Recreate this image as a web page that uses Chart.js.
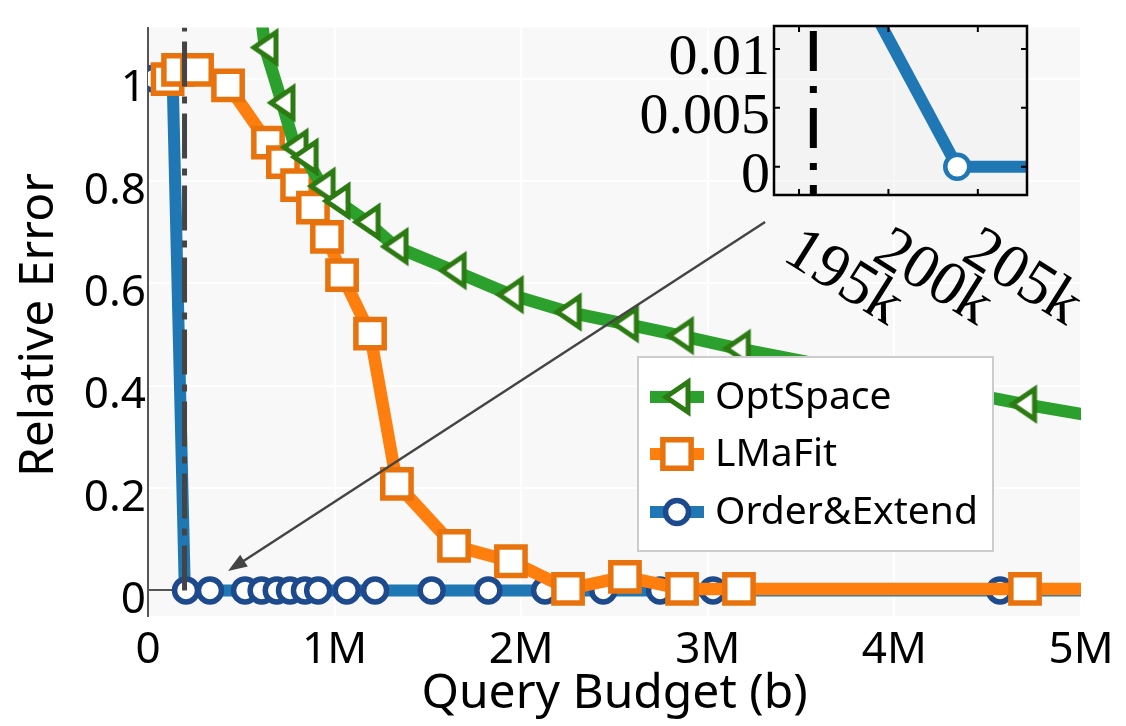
<!DOCTYPE html>
<html><head><meta charset="utf-8">
<script src="https://cdn.jsdelivr.net/npm/chart.js@4/dist/chart.umd.min.js"></script>
<style>
html,body{margin:0;padding:0;background:#fff;}
#wrap{position:relative;width:1126px;height:726px;overflow:hidden;}
#main{position:absolute;left:0;top:0;}
#inset{position:absolute;left:600px;top:0;}
</style></head><body>
<div id="wrap"><canvas id="main" width="1126" height="726"></canvas><canvas id="inset" width="526" height="330"></canvas></div>
<script>
// ---------------- data ----------------
const xTicks = [0, 1e6, 2e6, 3e6, 4e6, 5e6];
const xTickLabels = ['0', '1M', '2M', '3M', '4M', '5M'];
const yTicks = [0, 0.2, 0.4, 0.6, 0.8, 1];
const yTickLabels = ['0', '0.2', '0.4', '0.6', '0.8', '1'];

const seriesNames = ['OptSpace', 'LMaFit', 'Order&Extend'];

const optX = [580000, 627000, 718000, 788000, 842000, 933000, 1013000, 1174000, 1324000, 1635000, 1941000, 2252000, 2558000, 2853000, 3158000, 4692000, 5300000];
const optY = [1.20, 1.061, 0.953, 0.866, 0.847, 0.790, 0.761, 0.720, 0.672, 0.625, 0.578, 0.544, 0.521, 0.498, 0.473, 0.364, 0.326];

const lmaX = [105000, 161000, 263000, 429000, 643000, 723000, 799000, 884000, 959000, 1040000, 1190000, 1334000, 1640000, 1945000, 2251000, 2556000, 2862000, 3167000, 4700000, 5300000];
const lmaY = [0.999, 1.017, 1.017, 0.987, 0.875, 0.837, 0.792, 0.748, 0.691, 0.616, 0.502, 0.208, 0.087, 0.057, 0.003, 0.0265, 0.003, 0.003, 0.003, 0.003];

const oeX = [30000, 132000, 196000, 203850, 332000, 520000, 609000, 690000, 761000, 841000, 912000, 1065000, 1217000, 1520000, 1824000, 2128000, 2440000, 2744000, 3028000, 4566000, 5300000];
const oeY = [1, 1, 0.0222, 0, 0, 0, 0, 0, 0, 0, 0, 0, 0, 0, 0, 0, 0, 0, 0, 0, 0];
const oeUnmarked = [2];   // index of the unmarked intermediate sample

const thresholdX = 195800;

// arrow annotation (data coords): from inset corner to the zoomed point
const arrowFrom = {x: 3307000, y: 0.72};
const arrowTo = {x: 429000, y: 0.038};

// inset
const insetXRange = [193600, 207750];
const insetYRange = [-0.0024, 0.01195];
const insetXTicks = [195000, 200000, 205000];
const insetXTickLabels = ['195k', '200k', '205k'];
const insetYTicks = [0, 0.005, 0.01];
const insetYTickLabels = ['0', '0.005', '0.01'];

// ---------------- styles ----------------
const SANS = '"Noto Sans", "Open Sans", sans-serif';
const SERIF = '"Liberation Serif", "DejaVu Serif", serif';
const zip = (xs, ys) => xs.map((x, i) => ({x: x, y: ys[i]}));

function makeTriangle(w, h, lw, stroke, fill) {
  const c = document.createElement('canvas');
  c.width = Math.ceil(w + lw * 4); c.height = Math.ceil(h + lw * 4);
  if (c.width % 2) c.width++; if (c.height % 2) c.height++;
  const g = c.getContext('2d');
  const cx = c.width / 2, cy = c.height / 2;
  g.beginPath(); g.moveTo(cx - w / 2, cy); g.lineTo(cx + w / 2, cy - h / 2); g.lineTo(cx + w / 2, cy + h / 2); g.closePath();
  g.fillStyle = fill; g.fill(); g.lineWidth = lw; g.strokeStyle = stroke; g.lineJoin = 'miter'; g.stroke();
  return c;
}
const triMarker = makeTriangle(22, 30, 5, '#2b7a12', '#ffffff');

const datasets = [
  {label: seriesNames[0], data: zip(optX, optY), borderColor: '#2ca02c', borderWidth: 12.5,
   pointStyle: triMarker, pointRadius: 15, clip: 0},
  {label: seriesNames[1], data: zip(lmaX, lmaY), borderColor: '#ff7f0e', borderWidth: 12.5,
   pointStyle: 'rect', pointRadius: 20, pointBorderWidth: 5.5, pointBorderColor: '#e8730c', pointBackgroundColor: '#ffffff', clip: 0},
  {label: seriesNames[2], data: zip(oeX, oeY), borderColor: '#1f77b4', borderWidth: 12,
   pointStyle: 'circle', pointRadius: c => oeUnmarked.includes(c.dataIndex) ? 0 : 11.5,
   pointBorderWidth: 5.5, pointBorderColor: '#1d4a8c', pointBackgroundColor: '#ffffff', clip: 0}
];
datasets.forEach(d => { d.borderJoinStyle = 'round'; d.borderCapStyle = 'butt'; d.tension = 0; d.fill = false; });

function drawMarker(ctx, ds, x, y) {
  ctx.save();
  if (ds.pointStyle instanceof HTMLCanvasElement) {
    ctx.drawImage(ds.pointStyle, x - ds.pointStyle.width / 2, y - ds.pointStyle.height / 2);
  } else {
    ctx.lineWidth = ds.pointBorderWidth; ctx.strokeStyle = ds.pointBorderColor; ctx.fillStyle = ds.pointBackgroundColor;
    ctx.beginPath();
    if (ds.pointStyle === 'rect') { const s = ds.pointRadius * Math.SQRT1_2; ctx.rect(x - s, y - s, 2 * s, 2 * s); }
    else { ctx.arc(x, y, 11.5, 0, Math.PI * 2); }
    ctx.fill(); ctx.stroke();
  }
  ctx.restore();
}

const mainPlugin = {
  id: 'mainDecor',
  beforeDraw(chart) {
    const {ctx, chartArea: a} = chart;
    ctx.save(); ctx.fillStyle = '#f8f8f8'; ctx.fillRect(a.left, a.top, a.right - a.left, a.bottom - a.top); ctx.restore();
  },
  afterDraw(chart) {
    const {ctx, chartArea: a, scales: {x: xs, y: ys}} = chart;
    // tick labels
    ctx.save();
    ctx.fillStyle = '#000';
    ctx.font = '44px ' + SANS;
    ctx.textAlign = 'right'; ctx.textBaseline = 'alphabetic';
    yTicks.forEach((v, i) => ctx.fillText(yTickLabels[i], a.left - 2, ys.getPixelForValue(v) + 22.5));
    ctx.textAlign = 'center';
    xTicks.forEach((v, i) => ctx.fillText(xTickLabels[i], xs.getPixelForValue(v), 663));
    // axis titles
    ctx.font = '48px ' + SANS;
    ctx.fillText('Query Budget (b)', (a.left + a.right) / 2, 708);
    ctx.save();
    ctx.translate(53, 325); ctx.rotate(-Math.PI / 2);
    ctx.fillText('Relative Error', 0, 0);
    ctx.restore();
    ctx.restore();

    // threshold dash-dot line
    ctx.save();
    ctx.beginPath(); ctx.rect(a.left, a.top, a.right - a.left, a.bottom - a.top); ctx.clip();
    const tx = xs.getPixelForValue(thresholdX);
    ctx.strokeStyle = '#444'; ctx.lineWidth = 5; ctx.setLineDash([45, 10, 7, 10]);
    ctx.beginPath(); ctx.moveTo(tx, ys.getPixelForValue(0)); ctx.lineTo(tx, a.top); ctx.stroke();
    ctx.setLineDash([]);
    // arrow
    const x0 = xs.getPixelForValue(arrowFrom.x), y0 = ys.getPixelForValue(arrowFrom.y);
    const x1 = xs.getPixelForValue(arrowTo.x), y1 = ys.getPixelForValue(arrowTo.y);
    const ang = Math.atan2(y1 - y0, x1 - x0);
    const hl = 19, hw = 7;
    ctx.strokeStyle = '#444'; ctx.fillStyle = '#444'; ctx.lineWidth = 2.5;
    ctx.beginPath(); ctx.moveTo(x0, y0); ctx.lineTo(x1 - Math.cos(ang) * hl * 0.8, y1 - Math.sin(ang) * hl * 0.8); ctx.stroke();
    ctx.beginPath();
    ctx.moveTo(x1, y1);
    ctx.lineTo(x1 - Math.cos(ang) * hl - Math.sin(ang) * hw, y1 - Math.sin(ang) * hl + Math.cos(ang) * hw);
    ctx.lineTo(x1 - Math.cos(ang) * hl + Math.sin(ang) * hw, y1 - Math.sin(ang) * hl - Math.cos(ang) * hw);
    ctx.closePath(); ctx.fill();
    ctx.restore();

    // legend
    ctx.save();
    const L = 638, T = 357, R = 993, B = 551;
    ctx.fillStyle = '#ffffff'; ctx.fillRect(L, T, R - L, B - T);
    ctx.strokeStyle = '#cccccc'; ctx.lineWidth = 2; ctx.strokeRect(L, T, R - L, B - T);
    const rows = [397, 454, 512];
    chart.data.datasets.forEach((ds, i) => {
      const ry = rows[i];
      ctx.strokeStyle = ds.borderColor; ctx.lineWidth = 12;
      ctx.beginPath(); ctx.moveTo(650, ry); ctx.lineTo(704, ry); ctx.stroke();
      drawMarker(ctx, ds, 677, ry);
      ctx.fillStyle = '#000'; ctx.font = '39px ' + SANS; ctx.textAlign = 'left'; ctx.textBaseline = 'middle';
      ctx.fillText(ds.label, 715, ry + 1);
    });
    ctx.restore();
  }
};

new Chart(document.getElementById('main'), {
  type: 'line',
  data: {datasets: datasets},
  options: {
    responsive: false, animation: false, devicePixelRatio: 1,
    layout: {padding: {top: 9, right: 45, left: 0, bottom: 0}},
    plugins: {legend: {display: false}, tooltip: {enabled: false}},
    scales: {
      x: {type: 'linear', min: 0, max: 5e6,
          afterBuildTicks: ax => { ax.ticks = xTicks.map(v => ({value: v})); },
          afterFit: ax => { ax.height = 110; },
          ticks: {display: false},
          grid: {color: '#ffffff', lineWidth: 2, drawTicks: false},
          border: {display: false}},
      y: {type: 'linear', min: -0.05, max: 1.1,
          afterBuildTicks: ax => { ax.ticks = yTicks.map(v => ({value: v})); },
          afterFit: ax => { ax.width = 148; },
          ticks: {display: false},
          grid: {color: c => c.tick && c.tick.value === 0 ? '#555555' : '#ffffff', lineWidth: 2, drawTicks: false},
          border: {display: true, color: '#555555', width: 2}}
    }
  },
  plugins: [mainPlugin]
});

// ---------------- inset ----------------
const insetPlugin = {
  id: 'insetDecor',
  beforeDraw(chart) {
    const {ctx, chartArea: a} = chart;
    ctx.save(); ctx.fillStyle = 'rgba(238,238,238,0.45)'; ctx.fillRect(a.left, a.top, a.right - a.left, a.bottom - a.top); ctx.restore();
  },
  beforeDatasetsDraw(chart) {
    const {ctx, chartArea: a, scales: {x: xs}} = chart;
    ctx.save();
    const tx = xs.getPixelForValue(thresholdX);
    ctx.strokeStyle = '#000'; ctx.lineWidth = 7; ctx.setLineDash([40, 15, 7, 15]);
    ctx.beginPath(); ctx.moveTo(tx, a.top + 5); ctx.lineTo(tx, a.bottom); ctx.stroke();
    ctx.restore();
  },
  afterDraw(chart) {
    const {ctx, chartArea: a, scales: {x: xs, y: ys}} = chart;
    ctx.save();
    ctx.strokeStyle = '#000'; ctx.lineWidth = 2.5;
    ctx.strokeRect(a.left, a.top, a.right - a.left, a.bottom - a.top);
    ctx.lineWidth = 2;
    insetXTicks.forEach(v => { const px = xs.getPixelForValue(v);
      ctx.beginPath(); ctx.moveTo(px, a.bottom); ctx.lineTo(px, a.bottom - 6); ctx.moveTo(px, a.top); ctx.lineTo(px, a.top + 6); ctx.stroke(); });
    insetYTicks.forEach(v => { const py = ys.getPixelForValue(v);
      ctx.beginPath(); ctx.moveTo(a.left, py); ctx.lineTo(a.left + 6, py); ctx.moveTo(a.right, py); ctx.lineTo(a.right - 6, py); ctx.stroke(); });
    ctx.fillStyle = '#000'; ctx.font = '58px ' + SERIF;
    ctx.textAlign = 'right'; ctx.textBaseline = 'alphabetic';
    insetYTicks.forEach((v, i) => ctx.fillText(insetYTickLabels[i], a.left - 4, ys.getPixelForValue(v) + 25));
    ctx.textAlign = 'left';
    ctx.font = '63px ' + SERIF;
    insetXTicks.forEach((v, i) => {
      const px = xs.getPixelForValue(v);
      ctx.save(); ctx.translate(px - 18, a.bottom + 64); ctx.rotate(Math.PI / 5.6);
      ctx.fillText(insetXTickLabels[i], 0, 0); ctx.restore();
    });
    ctx.restore();
  }
};

new Chart(document.getElementById('inset'), {
  type: 'line',
  data: {datasets: [{data: zip(oeX, oeY), borderColor: '#1f77b4', borderWidth: 12, borderJoinStyle: 'round',
    pointRadius: c => oeUnmarked.includes(c.dataIndex) ? 0 : 12, pointBorderWidth: 4.5,
    pointBorderColor: '#1f77b4', pointBackgroundColor: '#ffffff', clip: 0}]},
  options: {
    responsive: false, animation: false, devicePixelRatio: 1,
    layout: {padding: {left: 174, top: 26, right: 99, bottom: 135}},
    plugins: {legend: {display: false}, tooltip: {enabled: false}},
    scales: {
      x: {type: 'linear', display: false, min: insetXRange[0], max: insetXRange[1]},
      y: {type: 'linear', display: false, min: insetYRange[0], max: insetYRange[1]}
    }
  },
  plugins: [insetPlugin]
});
</script>
</body></html>
